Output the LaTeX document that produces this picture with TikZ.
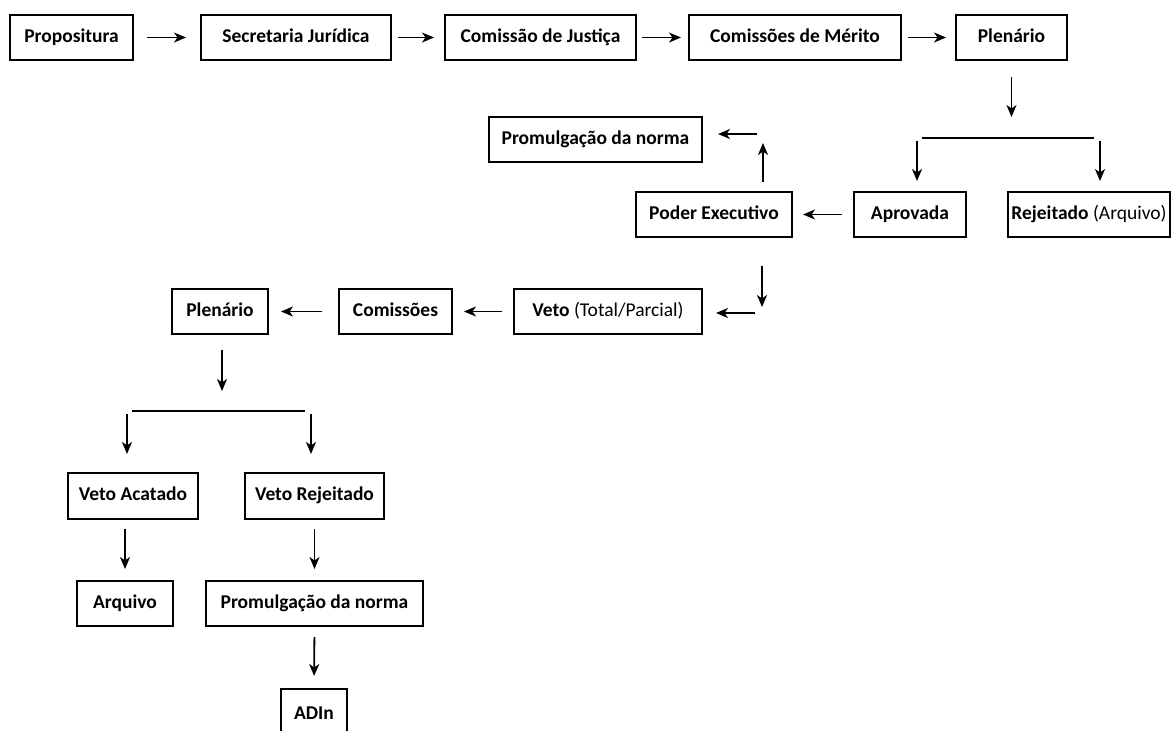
\documentclass[tikz,border=0pt]{standalone}
\usepackage{fontspec}
\setmainfont{Carlito}
\usetikzlibrary{arrows.meta}
\tikzset{
  caixa/.style={draw, line width=2pt, inner sep=0pt, minimum height=45pt,
    text height=13.5pt, text depth=4.5pt,
    font=\fontsize{19.5}{23}\selectfont\bfseries},
  seta/.style={-{Stealth[length=12pt, width=10pt, inset=3.5pt]}, line width=1.8pt,
    shorten <=8pt, shorten >=9pt},
  linha/.style={line width=1.8pt}
}

\begin{document}
\begin{tikzpicture}[x=1pt, y=-1pt]
  \useasboundingbox (0,0) rectangle (1171,731);
  % primeira linha
  \node[caixa, minimum width=123pt] (propositura) at (71.5,37.5) {Propositura};
  \node[caixa, minimum width=190pt] (secretaria) at (296,37.5) {Secretaria Jurídica};
  \node[caixa, minimum width=191pt] (justica) at (540.5,37.5) {Comissão de Justiça};
  \node[caixa, minimum width=212pt] (merito) at (795,37.5) {Comissões de Mérito};
  \node[caixa, minimum width=111pt] (plenario) at (1011.5,37.5) {Plenário};
  \draw[seta, shorten <=13pt, shorten >=14pt] (propositura.east) -- (secretaria.west);
  \draw[seta, shorten <=6pt, shorten >=10pt] (secretaria.east) -- (justica.west);
  \draw[seta, shorten <=5pt, shorten >=7pt] (justica.east) -- (merito.west);
  \draw[seta, shorten <=6pt, shorten >=9pt] (merito.east) -- (plenario.west);

  % votacao
  \coordinate (setaA) at (1011.5,117);
  \draw[seta, shorten <=16pt, shorten >=0pt] (plenario.south) -- (setaA);
  \coordinate (ramoAesq) at (922,138);
  \coordinate (ramoAdir) at (1094,138);
  \draw[linha] (ramoAesq) -- (ramoAdir);
  \node[caixa, minimum width=112pt] (aprovada) at (910,214.5) {Aprovada};
  \node[caixa, minimum width=162pt] (rejeitado) at (1089,214.5) {Rejeitado {\mdseries(Arquivo)}};
  \coordinate (desceA1) at (917,141);
  \coordinate (desceA2) at (1100,141);
  \draw[seta, shorten <=0pt, shorten >=10pt] (desceA1) -- (desceA1 |- aprovada.north);
  \draw[seta, shorten <=0pt, shorten >=10pt] (desceA2) -- (desceA2 |- rejeitado.north);

  % executivo
  \node[caixa, minimum width=156pt] (poder) at (714,214.5) {Poder Executivo};
  \node[caixa, minimum width=213pt] (promulgacao) at (595.5,139.5) {Promulgação da norma};
  \draw[seta, shorten <=11pt, shorten >=10pt] (aprovada.west) -- (poder.east);
  \coordinate (dobraA) at (763,143);
  \coordinate (dobraB) at (757,134);
  \draw[seta, shorten <=9pt, shorten >=0pt] (poder.north -| dobraA) -- (dobraA);
  \draw[seta, shorten <=0pt, shorten >=15pt] (dobraB) -- (dobraB -| promulgacao.east);

  % veto
  \node[caixa, minimum width=188pt] (veto) at (608,311.5) {Veto {\mdseries(Total/Parcial)}};
  \node[caixa, minimum width=113pt] (comissoes) at (395.5,311.5) {Comissões};
  \node[caixa, minimum width=96pt] (plenarioB) at (220,311.5) {Plenário};
  \coordinate (dobraC) at (762,307);
  \coordinate (dobraD) at (755,313);
  \draw[seta, shorten <=28pt, shorten >=0pt] (poder.south -| dobraC) -- (dobraC);
  \draw[seta, shorten <=0pt, shorten >=13pt] (dobraD) -- (dobraD -| veto.east);
  \draw[seta, shorten <=11pt, shorten >=11pt] (veto.west) -- (comissoes.east);
  \draw[seta, shorten <=16pt, shorten >=12pt] (comissoes.west) -- (plenarioB.east);

  % apreciacao do veto
  \coordinate (desceB) at (222,391);
  \draw[seta, shorten <=15pt, shorten >=0pt] (plenarioB.south -| desceB) -- (desceB);
  \coordinate (ramoBesq) at (132,411);
  \coordinate (ramoBdir) at (305,411);
  \draw[linha] (ramoBesq) -- (ramoBdir);
  \node[caixa, minimum width=130pt, minimum height=46pt] (acatado) at (133,496) {Veto Acatado};
  \node[caixa, minimum width=139pt, minimum height=46pt] (vetoRej) at (314.5,496) {Veto Rejeitado};
  \coordinate (desceB1) at (127,414);
  \coordinate (desceB2) at (311,414);
  \draw[seta, shorten <=0pt, shorten >=18pt] (desceB1) -- (desceB1 |- acatado.north);
  \draw[seta, shorten <=0pt, shorten >=18pt] (desceB2) -- (desceB2 |- vetoRej.north);

  % desfecho
  \node[caixa, minimum width=96pt] (arquivo) at (125,603.5) {Arquivo};
  \node[caixa, minimum width=217pt] (promulgacaoB) at (314.5,603.5) {Promulgação da norma};
  \node[caixa, minimum width=66pt, minimum height=51pt] (adin) at (314,714.5) {ADIn};
  \draw[seta, shorten <=9pt, shorten >=11pt] (acatado.south -| arquivo) -- (arquivo.north);
  \draw[seta, shorten <=9pt, shorten >=11pt] (vetoRej.south) -- (promulgacaoB.north);
  \draw[seta, shorten <=10pt, shorten >=12pt] (promulgacaoB.south) -- (adin.north);
\end{tikzpicture}
\end{document}
